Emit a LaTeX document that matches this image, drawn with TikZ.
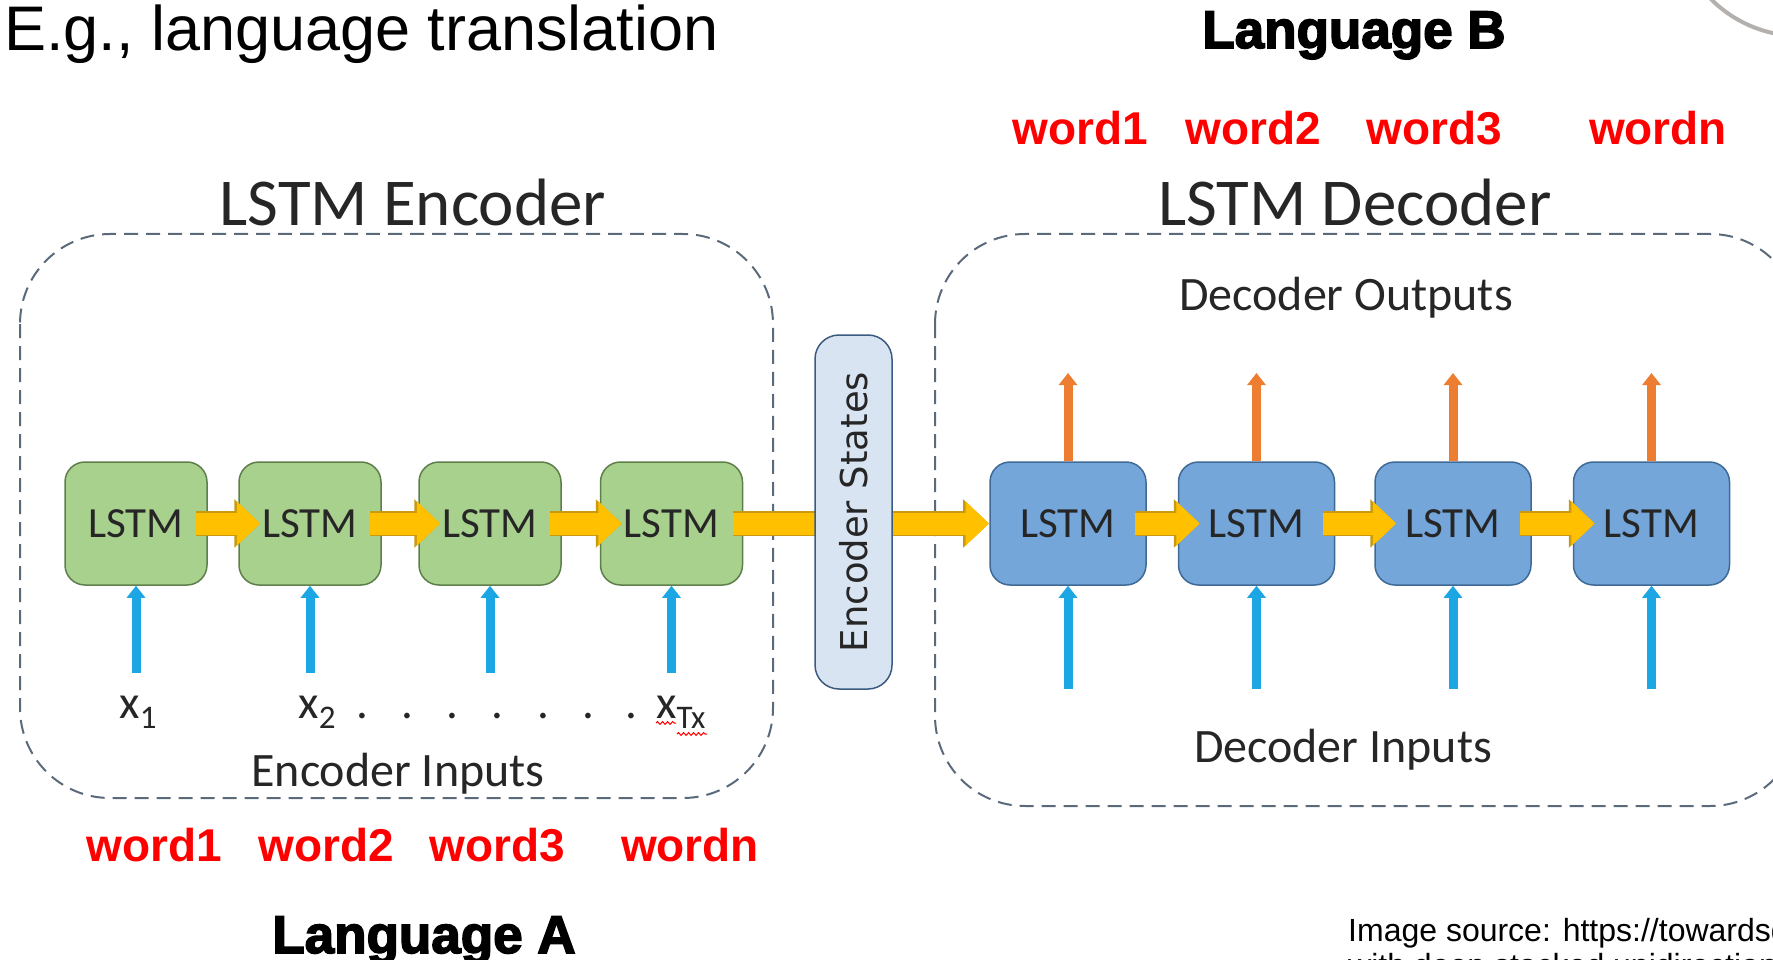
\documentclass[tikz,border=0pt]{standalone}
\usepackage{fontspec}
\setmainfont{Liberation Sans}
\newfontfamily\calfont{Carlito}
\newfontfamily\dvfont{DejaVu Sans}
\newfontfamily\heavyfont{Liberation Sans Bold}[FakeBold=3]
\usepackage{xcolor}
\usetikzlibrary{positioning,arrows.meta,decorations.pathmorphing}

\definecolor{encfill}{HTML}{A9D18E}
\definecolor{encedge}{HTML}{5E7F4C}
\definecolor{decfill}{HTML}{74A6DA}
\definecolor{decedge}{HTML}{3F6A96}
\definecolor{statefill}{HTML}{D9E4F2}
\definecolor{stateedge}{HTML}{3A5A80}
\definecolor{flowyel}{HTML}{FFC000}
\definecolor{flowedge}{HTML}{C99A10}
\definecolor{incyan}{HTML}{1CA6E3}
\definecolor{outorange}{HTML}{ED7D31}
\definecolor{dashgray}{HTML}{5A6A7A}
\definecolor{arcgray}{HTML}{B3B0AE}

\newcommand{\xsub}[1]{x\raisebox{-10pt}{\fontsize{33}{34}\selectfont #1}}

\begin{document}
\begin{tikzpicture}[
  x=1pt, y=-1pt,
  lstmenc/.style={draw=encedge, fill=encfill, line width=1.5pt, rounded corners=20pt,
                  minimum width=142pt, minimum height=123pt, text=black!85,
                  font=\calfont\fontsize{43}{46}\selectfont},
  lstmdec/.style={lstmenc, draw=decedge, fill=decfill, minimum width=156pt},
  states/.style={draw=stateedge, fill=statefill, line width=1.5pt, rounded corners=24pt,
                 minimum width=354pt, minimum height=77pt, text=black!85,
                 font=\dvfont\fontsize{37}{40}\selectfont},
  flow/.style={preaction={draw=flowedge, line width=25pt, -{Triangle[width=47pt,length=26pt]}},
               draw=flowyel, line width=22pt, -{Triangle[width=43pt,length=23.5pt]}},
  inarr/.style={draw=incyan, line width=9pt, -{Triangle[width=18pt,length=12pt]}},
  outarr/.style={inarr, draw=outorange},
  group/.style={draw=dashgray, line width=2pt, dash pattern=on 14pt off 8pt, rounded corners=90pt},
  head/.style={inner sep=0pt, anchor=base, text=black!85, font=\calfont\fontsize{67}{70}\selectfont},
  sub/.style={head, font=\calfont\fontsize{48}{50}\selectfont},
  xlbl/.style={inner sep=0pt, anchor=base, text=black!85, font=\calfont\fontsize{47}{50}\selectfont},
  redword/.style={inner sep=0pt, text=red, font=\bfseries\fontsize{46}{50}\selectfont},
  lang/.style={inner sep=0pt, anchor=base, font=\heavyfont\fontsize{53}{56}\selectfont},
  squiggle/.style={draw=red, line width=1pt, decorate,
                   decoration={snake, amplitude=1.4pt, segment length=5pt}}]
\useasboundingbox (0,0) rectangle (1773,960);
\clip (0,0) rectangle (1773,960);

% title and languages
\node[inner sep=0pt, anchor=base west, font=\fontsize{63}{70}\selectfont] (title) at (4,51) {E.g., language translation};
\node[lang] (langB) at (1354,48) {Language B};
\node[lang] (langA) at (424,953) {Language A};
\draw[arcgray, line width=4pt] (1800,-90) circle[radius=126];

% encoder / decoder frames
\draw[group] (20,234) rectangle (773,798);
\draw[group] (935,234) rectangle (1800,806);
\node[head] (enchead) at (413,226) {LSTM Encoder};
\node[head] (dechead) at (1355,226) {LSTM Decoder};
\node[sub] (decout) at (1346,310) {Decoder Outputs};
\node[sub] (encin) at (398,786) {Encoder Inputs};
\node[sub] (decin) at (1343,762) {Decoder Inputs};

% LSTM cells
\foreach \i/\x in {1/136,2/310,3/490,4/671.5}
  \node[lstmenc] (g\i) at (\x,523.5) {LSTM};
\draw[flow] ([xshift=-10pt]g4.east) -- ([xshift=-1pt]1068-78,523.5) coordinate (d1in);
\node[states, rotate=90] (es) at (853.5,512) {Encoder States};
\foreach \i/\x in {1/1068,2/1256.5,3/1453,4/1651.5}
  \node[lstmdec] (d\i) at (\x,523.5) {LSTM};
\foreach \a/\b in {g1/g2,g2/g3,g3/g4,d1/d2,d2/d3,d3/d4}
  \draw[flow] ([xshift=-12pt]\a.east) -- ([xshift=22pt]\b.west);

% inputs and outputs
\coordinate (encbot) at (0,673);
\coordinate (decbot) at (0,689);
\coordinate (dectop) at (0,373);
\foreach \i in {1,...,4} {
  \draw[inarr] (g\i.south |- encbot) -- (g\i.south);
  \draw[inarr] (d\i.south |- decbot) -- (d\i.south);
  \draw[outarr] (d\i.north) -- (d\i.north |- dectop);
}

% encoder input symbols
\node[xlbl] (x1) at (138,718) {\xsub{1}};
\node[xlbl] (x2) at (317,718) {\xsub{2}};
\foreach \x [count=\k] in {362,407,452,497,543,588,631}
  \node[xlbl] (dot\k) at (\x,718) {.};
\node[xlbl, anchor=base west] (xtx) at (656,718) {\xsub{Tx}};
\draw[squiggle] ([yshift=-5pt]xtx.base west) -- ++(20,0);
\draw[squiggle] ([shift={(21pt,-16pt)}]xtx.base west) -- ++(30,0);

% words
\foreach \w/\x in {word1/1080,word2/1253,word3/1434,wordn/1658}
  \node[redword] (top\w) at (\x,128) {\w};
\foreach \w/\x in {word1/154,word2/326,word3/497,wordn/690}
  \node[redword] (bot\w) at (\x,845) {\w};

% source note
\node[inner sep=0pt, anchor=base west, font=\fontsize{32}{36}\selectfont] (src) at (1348,941) {Image source: https://towardsdatascience.com/};
\node[inner sep=0pt, anchor=base west, font=\fontsize{32}{36}\selectfont] (src2) at (1348,976) {with deep stacked unidirectional LSTM};
\end{tikzpicture}
\end{document}
